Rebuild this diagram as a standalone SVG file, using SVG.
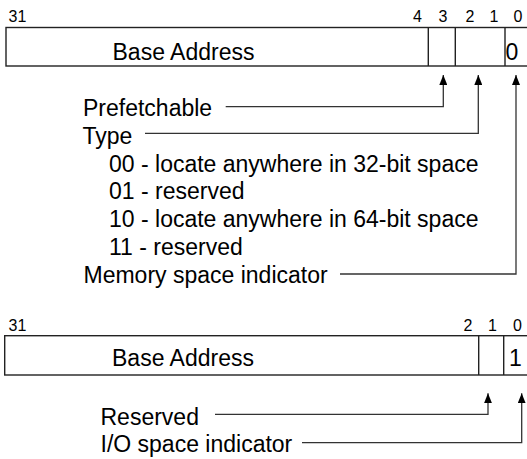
<svg xmlns="http://www.w3.org/2000/svg" width="527" height="459" viewBox="0 0 527 459">
<style>
text{font-family:"Liberation Sans",Arial,sans-serif;fill:#000}
.bit{font-size:16px;text-anchor:middle}
.lbl{font-size:23px}
.box{fill:#fff;stroke:#222;stroke-width:1.4}
.div{stroke:#222;stroke-width:1.4}
.con{fill:none;stroke:#333;stroke-width:1.3}
</style>
<defs>
<marker id="ah" viewBox="0 0 10 8" refX="10" refY="4" markerWidth="10" markerHeight="8" markerUnits="userSpaceOnUse" orient="auto">
<path d="M0,0 L10,4 L0,8 Z" fill="#000"/>
</marker>
</defs>
<rect width="527" height="459" fill="#fff"/>

<g id="memory-bar">
<text class="bit" x="17.5" y="21.5">31</text>
<text class="bit" x="417.5" y="21.5">4</text>
<text class="bit" x="443" y="21.5">3</text>
<text class="bit" x="470" y="21.5">2</text>
<text class="bit" x="494" y="21.5">1</text>
<text class="bit" x="518" y="21.5">0</text>
<rect class="box" x="6" y="27.5" width="530" height="38.5"/>
<line class="div" x1="428.3" y1="27.5" x2="428.3" y2="66"/>
<line class="div" x1="455.3" y1="27.5" x2="455.3" y2="66"/>
<line class="div" x1="505" y1="27.5" x2="505" y2="66"/>
<text class="lbl" x="112.5" y="59.5">Base Address</text>
<text class="lbl" x="505.5" y="59.5">0</text>
</g>

<g id="memory-labels">
<text class="lbl" x="83" y="116">Prefetchable</text>
<text class="lbl" x="82.5" y="143.8">Type</text>
<text class="lbl" x="109" y="171.6">00 - locate anywhere in 32-bit space</text>
<text class="lbl" x="109" y="199.4">01 - reserved</text>
<text class="lbl" x="109" y="227.2">10 - locate anywhere in 64-bit space</text>
<text class="lbl" x="109" y="255">11 - reserved</text>
<text class="lbl" x="83.5" y="282.8">Memory space indicator</text>
</g>

<g id="io-bar">
<text class="bit" x="17.5" y="330.7">31</text>
<text class="bit" x="468" y="330.7">2</text>
<text class="bit" x="492.5" y="330.7">1</text>
<text class="bit" x="517.5" y="330.7">0</text>
<rect class="box" x="4.7" y="335.7" width="540" height="39.3"/>
<line class="div" x1="478.7" y1="335.7" x2="478.7" y2="375"/>
<line class="div" x1="503.7" y1="335.7" x2="503.7" y2="375"/>
<text class="lbl" x="112" y="366">Base Address</text>
<text class="lbl" x="509" y="366">1</text>
</g>

<g id="io-labels">
<text class="lbl" x="100.5" y="425">Reserved</text>
<text class="lbl" x="100.5" y="452">I/O space indicator</text>
</g>

<g id="connectors">
<polyline class="con" marker-end="url(#ah)" points="225.7,106.7 443.3,106.7 443.3,75"/>
<polyline class="con" marker-end="url(#ah)" points="145,133.3 478.3,133.3 478.3,75"/>
<polyline class="con" marker-end="url(#ah)" points="340,274 516,274 516,75"/>
<polyline class="con" marker-end="url(#ah)" points="215,414.3 488,414.3 488,393.3"/>
<polyline class="con" marker-end="url(#ah)" points="302,442.7 521.7,442.7 521.7,393.3"/>
</g>
</svg>
